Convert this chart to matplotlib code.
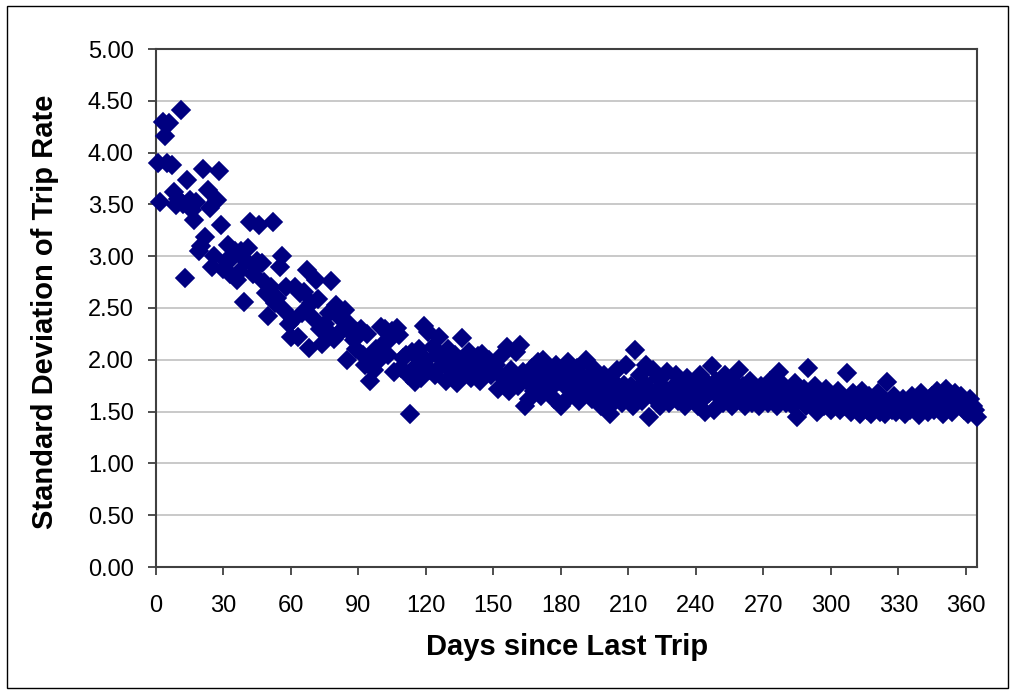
import numpy as np
import matplotlib
matplotlib.use("Agg")
import matplotlib.pyplot as plt
from matplotlib.patches import Rectangle

plt.rcParams['font.family'] = ['Liberation Sans', 'DejaVu Sans']

# days since last trip, one point per day
days = np.arange(1, 366)

# standard deviation of trip rate, read in 30-day blocks
sd_001_030 = [3.90, 3.52, 4.30, 4.16, 3.90, 4.29, 3.88, 3.62, 3.49, 3.55,
              4.41, 3.50, 2.79, 3.74, 3.54, 3.45, 3.35, 3.52, 3.05, 3.10,
              3.84, 3.19, 3.64, 3.47, 2.90, 3.00, 3.54, 3.82, 3.30, 2.88]
sd_031_060 = [2.95, 3.11, 2.83, 2.98, 3.05, 2.77, 2.85, 3.05, 2.56, 2.95,
              3.08, 3.33, 2.83, 2.90, 2.95, 3.30, 2.93, 2.75, 2.64, 2.42,
              2.70, 3.33, 2.55, 2.60, 2.90, 3.00, 2.48, 2.70, 2.35, 2.22]
sd_061_090 = [2.38, 2.70, 2.22, 2.64, 2.45, 2.65, 2.87, 2.11, 2.55, 2.40,
              2.77, 2.59, 2.30, 2.15, 2.35, 2.29, 2.45, 2.76, 2.20, 2.53,
              2.25, 2.40, 2.30, 2.48, 2.00, 2.35, 2.25, 2.19, 2.10, 2.27]
sd_091_120 = [2.30, 2.05, 1.95, 2.25, 1.80, 2.06, 1.90, 2.10, 2.00, 2.32,
              2.15, 2.30, 2.05, 2.20, 2.28, 1.88, 2.31, 2.24, 1.92, 2.02,
              2.05, 1.85, 1.48, 2.08, 1.79, 1.95, 2.10, 1.82, 2.33, 2.00]
sd_121_150 = [2.27, 1.90, 2.12, 1.85, 2.05, 2.22, 1.95, 2.00, 1.80, 2.10,
              1.92, 1.88, 2.05, 1.78, 2.00, 2.21, 1.85, 1.95, 2.08, 1.82,
              1.98, 1.90, 2.04, 1.80, 2.06, 1.88, 1.95, 2.00, 1.85, 1.90]
sd_151_180 = [1.95, 1.72, 1.85, 2.05, 1.78, 2.12, 1.70, 1.90, 1.82, 2.08,
              1.75, 2.14, 1.88, 1.55, 1.80, 1.62, 1.92, 1.70, 1.85, 1.98,
              1.65, 2.00, 1.78, 1.90, 1.72, 1.85, 1.62, 1.95, 1.80, 1.55]
sd_181_210 = [1.88, 1.75, 1.98, 1.65, 1.82, 1.70, 1.92, 1.60, 1.85, 1.75,
              2.00, 1.68, 1.80, 1.62, 1.90, 1.72, 1.78, 1.55, 1.85, 1.65,
              1.72, 1.48, 1.80, 1.60, 1.90, 1.70, 1.58, 1.76, 1.95, 1.62]
sd_211_240 = [1.75, 1.55, 2.09, 1.68, 1.85, 1.60, 1.78, 1.95, 1.45, 1.70,
              1.90, 1.62, 1.82, 1.55, 1.75, 1.68, 1.88, 1.58, 1.72, 1.65,
              1.85, 1.60, 1.78, 1.70, 1.55, 1.82, 1.65, 1.75, 1.60, 1.72]
sd_241_270 = [1.55, 1.85, 1.62, 1.50, 1.78, 1.68, 1.94, 1.52, 1.80, 1.65,
              1.72, 1.58, 1.85, 1.62, 1.70, 1.55, 1.78, 1.65, 1.90, 1.60,
              1.75, 1.55, 1.68, 1.80, 1.58, 1.72, 1.62, 1.55, 1.75, 1.65]
sd_271_300 = [1.72, 1.58, 1.80, 1.62, 1.68, 1.55, 1.88, 1.65, 1.75, 1.58,
              1.70, 1.62, 1.55, 1.78, 1.45, 1.68, 1.60, 1.72, 1.55, 1.92,
              1.65, 1.58, 1.75, 1.50, 1.68, 1.62, 1.55, 1.72, 1.60, 1.52]
sd_301_330 = [1.65, 1.58, 1.70, 1.52, 1.62, 1.55, 1.87, 1.60, 1.50, 1.68,
              1.55, 1.62, 1.48, 1.70, 1.58, 1.52, 1.65, 1.48, 1.60, 1.55,
              1.68, 1.50, 1.62, 1.48, 1.79, 1.58, 1.52, 1.65, 1.50, 1.60]
sd_331_365 = [1.55, 1.62, 1.48, 1.58, 1.52, 1.65, 1.55, 1.60, 1.47, 1.68,
              1.55, 1.62, 1.50, 1.58, 1.65, 1.52, 1.70, 1.55, 1.60, 1.48,
              1.72, 1.58, 1.62, 1.50, 1.68, 1.55, 1.60, 1.65, 1.52, 1.58,
              1.48, 1.62, 1.55, 1.52, 1.45]

sd = np.concatenate([sd_001_030, sd_031_060, sd_061_090, sd_091_120,
                     sd_121_150, sd_151_180, sd_181_210, sd_211_240,
                     sd_241_270, sd_271_300, sd_301_330, sd_331_365])

x_ticks = np.arange(0, 361, 30)
y_ticks = np.arange(0, 5.01, 0.5)

fig = plt.figure(figsize=(10.16, 6.94), dpi=100)
ax = fig.add_axes([156 / 1016, 1 - 567 / 694, (977 - 156) / 1016, (567 - 49) / 694])

navy = '#000080'
ax.plot(days, sd, linestyle='none', marker='D', markersize=9.3,
        markerfacecolor=navy, markeredgecolor=navy, markeredgewidth=1.2,
        clip_on=False, zorder=3)

ax.set_xlim(0, 365)
ax.set_ylim(0, 5)
ax.set_xticks(x_ticks)
ax.set_yticks(y_ticks)
ax.set_yticklabels([f'{v:.2f}' for v in y_ticks])

ax.yaxis.grid(True, color='#c0c0c0', linewidth=1.2)
ax.set_axisbelow(True)
for side in ax.spines.values():
    side.set_color('#404040')
    side.set_linewidth(1.5)

ax.tick_params(axis='both', direction='out', length=6, width=1.3,
               color='#404040', labelsize=17)
ax.tick_params(axis='y', pad=10)
ax.tick_params(axis='x', pad=14)

ax.set_xlabel('Days since Last Trip', fontsize=21, fontweight='bold', va='center')
ax.set_ylabel('Standard Deviation of Trip Rate', fontsize=21, fontweight='bold', va='center')
ax.xaxis.set_label_coords(0.5006, -0.154)
ax.yaxis.set_label_coords(-0.135, 0.492)

# thin frame round the whole chart
fig.patches.append(Rectangle((7 / 1016, 6 / 694), 1001 / 1016, 682 / 694,
                             transform=fig.transFigure, fill=False,
                             edgecolor='black', linewidth=1))

fig.savefig('out.png', dpi=100)
